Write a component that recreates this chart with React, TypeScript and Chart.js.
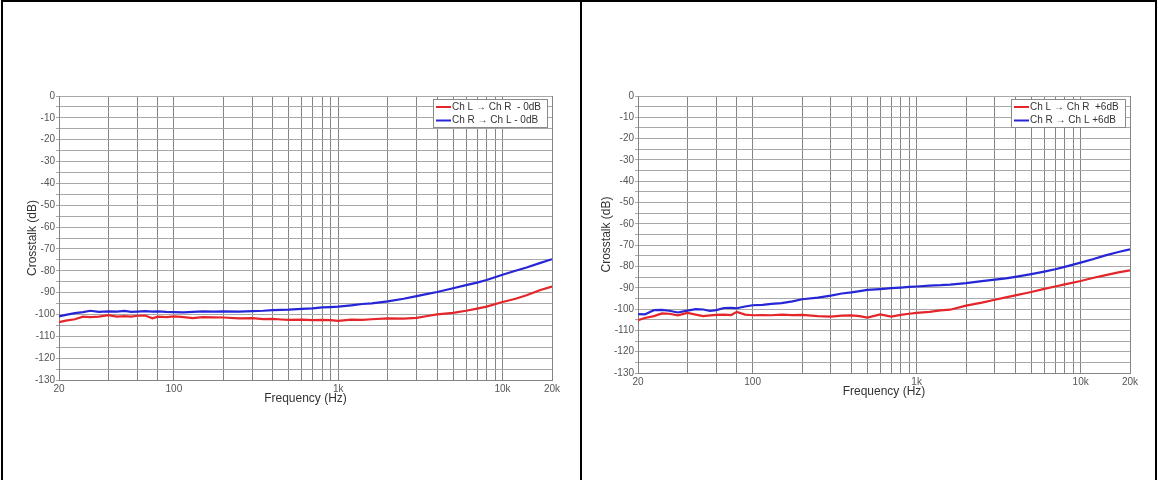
import React, { useEffect, useRef } from "react";
import { Chart, registerables } from "chart.js";

Chart.register(...registerables);

// ---- data ----
const freqs = [20, 22, 25, 28, 31, 35, 40, 45, 50, 55, 60, 67, 74, 80, 90, 100, 115, 130, 150, 175, 200, 250, 300, 350, 400, 450, 500, 600, 700, 800, 900, 1000, 1200, 1400, 1600, 2000, 2500, 3000, 3500, 4000, 5000, 6000, 7000, 8000, 10000, 12000, 14000, 17000, 20000];

const leftRed = [-103.5, -102.8, -102.2, -101.0, -101.2, -101.0, -100.3, -101.0, -100.8, -101.0,
  -100.6, -100.5, -101.8, -101.0, -101.2, -100.9, -101.2, -101.7, -101.2, -101.3,
  -101.4, -101.8, -101.7, -102.1, -102.0, -102.3, -102.5, -102.4, -102.6, -102.5,
  -102.6, -102.9, -102.4, -102.5, -102.2, -101.8, -101.9, -101.6, -100.7, -100.0,
  -99.3, -98.3, -97.3, -96.4, -94.3, -92.8, -91.2, -88.8, -87.2];

const leftBlue = [-100.9, -100.2, -99.4, -98.9, -98.3, -98.8, -98.6, -98.7, -98.4, -98.8,
  -98.7, -98.5, -98.7, -98.6, -98.8, -98.9, -99.0, -98.8, -98.6, -98.7,
  -98.6, -98.7, -98.5, -98.3, -98.0, -97.9, -97.8, -97.4, -97.2, -96.8,
  -96.6, -96.4, -95.8, -95.2, -94.9, -94.0, -92.8, -91.6, -90.6, -89.7,
  -88.0, -86.6, -85.4, -84.2, -81.8, -80.0, -78.5, -76.4, -74.7];

const rightRed = [-105.2, -104.2, -103.3, -102.0, -102.2, -102.9, -101.8, -102.6, -103.3, -103.0,
  -102.7, -102.6, -102.8, -101.3, -102.6, -102.9, -102.8, -102.9, -102.6, -102.8,
  -102.7, -103.3, -103.5, -103.1, -103.0, -103.3, -104.0, -102.5, -103.5, -102.7,
  -102.2, -101.8, -101.3, -100.6, -100.3, -98.4, -97.0, -95.6, -94.5, -93.6,
  -92.0, -90.5, -89.4, -88.4, -86.8, -85.3, -84.2, -82.8, -81.8];

const rightBlue = [-102.4, -102.5, -100.5, -100.4, -100.8, -101.6, -100.7, -100.0, -100.2, -100.9,
  -100.5, -99.5, -99.4, -99.6, -98.8, -98.2, -98.0, -97.6, -97.2, -96.4,
  -95.4, -94.6, -93.7, -92.7, -92.2, -91.6, -91.0, -90.6, -90.2, -89.9,
  -89.6, -89.4, -89.0, -88.8, -88.5, -87.8, -86.9, -86.2, -85.6, -84.9,
  -83.6, -82.4, -81.3, -80.2, -78.2, -76.5, -74.9, -73.2, -72.0];

const leftLabels = ["Ch L \u2192 Ch R  - 0dB", "Ch R \u2192 Ch L - 0dB"];
const rightLabels = ["Ch L \u2192 Ch R  +6dB", "Ch R \u2192 Ch L +6dB"];

const xGridFreqs = [20, 40, 60, 80, 100, 200, 300, 400, 500, 600, 700, 800, 900, 1000, 2000, 3000, 4000, 5000, 6000, 7000, 8000, 9000, 10000, 20000];
const xTickValues = [20, 100, 1000, 10000, 20000];
const xTickLabels = ["20", "100", "1k", "10k", "20k"];

const RED = "rgb(228,38,42)";
const BLUE = "rgb(38,38,215)";
const FONT = "'Liberation Sans', Arial, sans-serif";

const legendPlugin = {
  id: "boxLegend",
  afterDatasetsDraw(chart: any) {
    const { ctx, chartArea } = chart;
    const w = 115;
    const h = 29;
    const x = chartArea.right - 4 - w;
    const y = chartArea.top + 3;
    ctx.save();
    ctx.fillStyle = "#ffffff";
    ctx.fillRect(x, y, w, h);
    ctx.strokeStyle = "#8a8a8a";
    ctx.lineWidth = 1;
    ctx.strokeRect(x + 0.5, y + 0.5, w - 1, h - 1);
    ctx.font = `10px ${FONT}`;
    ctx.textBaseline = "middle";
    ctx.textAlign = "left";
    chart.data.datasets.forEach((ds: any, i: number) => {
      const cy = y + 8 + i * 13.5;
      ctx.strokeStyle = ds.borderColor;
      ctx.lineWidth = 2;
      ctx.beginPath();
      ctx.moveTo(x + 3, cy);
      ctx.lineTo(x + 18, cy);
      ctx.stroke();
      ctx.fillStyle = "#333";
      ctx.fillText(ds.label, x + 19, cy);
    });
    ctx.restore();
  },
};

type PanelProps = {
  left: number;
  width: number;
  padding: { left: number; right: number; top: number; bottom: number };
  yAxisWidth: number;
  red: number[];
  blue: number[];
  labels: string[];
};

function Panel({ left, width, padding, yAxisWidth, red, blue, labels }: PanelProps) {
  const ref = useRef<HTMLCanvasElement | null>(null);
  useEffect(() => {
    if (!ref.current) return;
    const chart = new Chart(ref.current, {
      type: "line",
      data: {
        datasets: [
          {
            label: labels[0],
            data: freqs.map((f, i) => ({ x: f, y: red[i] })),
            borderColor: RED,
            backgroundColor: RED,
            borderWidth: 2.2,
            pointRadius: 0,
            tension: 0,
          },
          {
            label: labels[1],
            data: freqs.map((f, i) => ({ x: f, y: blue[i] })),
            borderColor: BLUE,
            backgroundColor: BLUE,
            borderWidth: 2.2,
            pointRadius: 0,
            tension: 0,
          },
        ],
      },
      options: {
        responsive: false,
        animation: false,
        layout: { padding },
        plugins: {
          legend: { display: false },
          tooltip: { enabled: false },
        },
        scales: {
          x: {
            type: "logarithmic",
            min: 20,
            max: 20000,
            afterBuildTicks: (scale: any) => {
              scale.ticks = xGridFreqs.map((v) => ({ value: v }));
            },
            afterFit: (scale: any) => {
              scale.height = 26;
            },
            ticks: {
              autoSkip: false,
              maxRotation: 0,
              padding: 3,
              color: "#555",
              font: { family: FONT, size: 10 },
              callback: (value: any) => {
                const idx = xTickValues.indexOf(Number(value));
                return idx >= 0 ? xTickLabels[idx] : "";
              },
            },
            grid: { color: "#848484", lineWidth: 1, drawTicks: false },
            border: { color: "#848484" },
            title: {
              display: true,
              text: "Frequency (Hz)",
              color: "#333",
              font: { family: FONT, size: 12 },
              padding: 0,
            },
          },
          y: {
            min: -130,
            max: 0,
            afterFit: (scale: any) => {
              scale.width = yAxisWidth;
            },
            ticks: {
              stepSize: 5,
              autoSkip: false,
              padding: 1,
              color: "#555",
              font: { family: FONT, size: 10 },
              callback: (value: any) => (Number(value) % 10 === 0 ? String(value) : ""),
            },
            grid: { color: "#a8a8a8", lineWidth: 1, tickLength: 3 },
            border: { color: "#848484" },
            title: {
              display: true,
              text: "Crosstalk (dB)",
              color: "#333",
              font: { family: FONT, size: 12 },
              padding: 0,
            },
          },
        },
      },
      plugins: [legendPlugin],
    } as any);
    return () => chart.destroy();
  }, []);
  return (
    <canvas
      ref={ref}
      width={width}
      height={480}
      style={{ position: "absolute", left, top: 0, width, height: 480 }}
    />
  );
}

export default function App() {
  const line = (style: React.CSSProperties) => (
    <div style={{ position: "absolute", background: "#000", zIndex: 2, ...style }} />
  );
  return (
    <div
      style={{
        position: "fixed",
        left: 0,
        top: 0,
        width: 1158,
        height: 480,
        background: "#fff",
        overflow: "hidden",
      }}
    >
      <Panel
        left={0}
        width={580}
        padding={{ left: 25, right: 28, top: 96, bottom: 74 }}
        yAxisWidth={34}
        red={leftRed}
        blue={leftBlue}
        labels={leftLabels}
      />
      <Panel
        left={580}
        width={578}
        padding={{ left: 19, right: 28, top: 96, bottom: 81 }}
        yAxisWidth={39}
        red={rightRed}
        blue={rightBlue}
        labels={rightLabels}
      />
      {line({ left: 1, top: 0, width: 2, height: 480 })}
      {line({ left: 1, top: 0, width: 1156, height: 2 })}
      {line({ left: 580, top: 0, width: 2, height: 480 })}
      {line({ left: 1155, top: 0, width: 2, height: 480 })}
    </div>
  );
}
